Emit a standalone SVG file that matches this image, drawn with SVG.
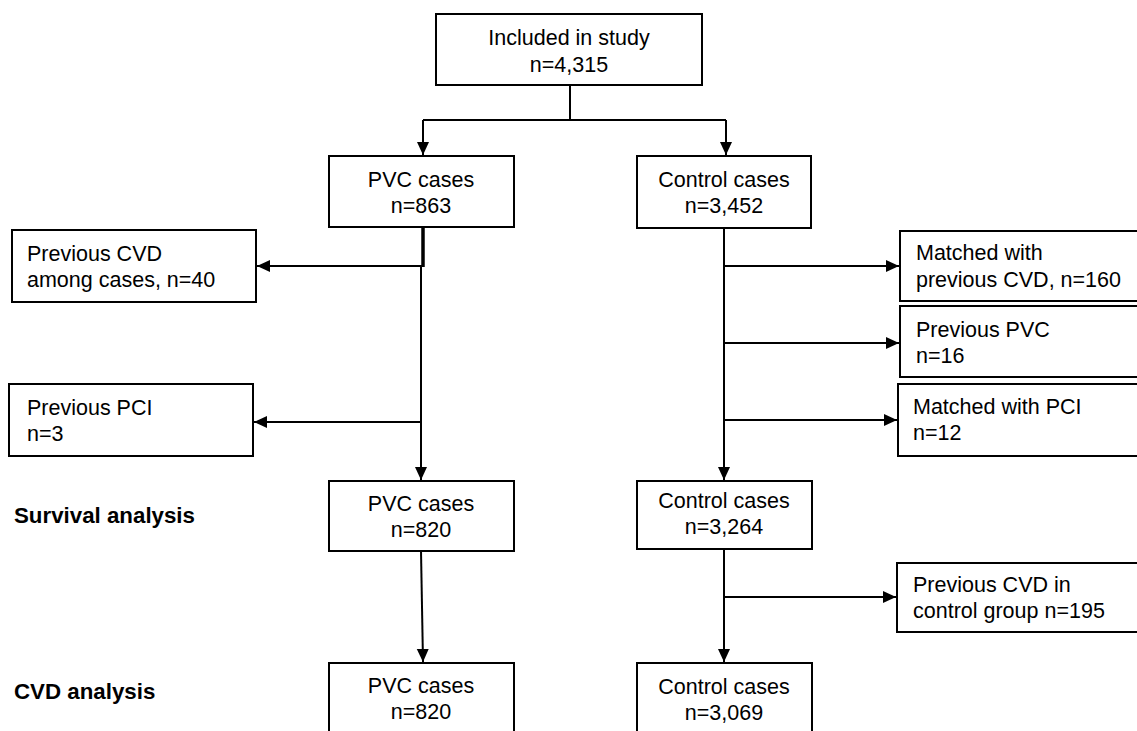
<svg xmlns="http://www.w3.org/2000/svg" width="1137" height="731" viewBox="0 0 1137 731">
<style>
.box{fill:#fff;stroke:#000;stroke-width:2}
.t{font-family:"Liberation Sans",Arial,sans-serif;font-size:21.5px;fill:#000}
.c{text-anchor:middle}
.b{font-weight:bold;font-size:22.3px}
.ln{fill:none;stroke:#000;stroke-width:2}
</style>
<defs>
<marker id="ah" markerUnits="userSpaceOnUse" markerWidth="14" markerHeight="14" viewBox="0 0 14 14" refX="13" refY="7" orient="auto">
<path d="M0,1 L13,7 L0,13 Z" fill="#000"/>
</marker>
</defs>
<rect width="1137" height="731" fill="#fff"/>
<g id="connectors">
<path class="ln" d="M570,85 V120"/>
<path class="ln" d="M423,120 H726"/>
<path class="ln" d="M423,120 V155" marker-end="url(#ah)"/>
<path class="ln" d="M726,120 V155" marker-end="url(#ah)"/>
<path d="M423,228 V267" stroke="#000" stroke-width="3.5" fill="none"/>
<path class="ln" d="M423,266 H257" marker-end="url(#ah)"/>
<path class="ln" d="M421,266 V480" marker-end="url(#ah)"/>
<path class="ln" d="M421,422 H254" marker-end="url(#ah)"/>
<path class="ln" d="M421,551 L423,662" marker-end="url(#ah)"/>
<path class="ln" d="M724,228 V480" marker-end="url(#ah)"/>
<path class="ln" d="M724,266 H899" marker-end="url(#ah)"/>
<path class="ln" d="M724,343 H899" marker-end="url(#ah)"/>
<path class="ln" d="M724,420 H897" marker-end="url(#ah)"/>
<path class="ln" d="M724,549 V662" marker-end="url(#ah)"/>
<path class="ln" d="M724,597 H896" marker-end="url(#ah)"/>
</g>
<g id="included">
<rect class="box" x="436" y="14" width="266" height="71"/>
<text class="t c" x="569" y="45">Included in study</text>
<text class="t c" x="569" y="72">n=4,315</text>
</g>
<g id="pvc1">
<rect class="box" x="329" y="156" width="185" height="71"/>
<text class="t c" x="421" y="187">PVC cases</text>
<text class="t c" x="421" y="213">n=863</text>
</g>
<g id="control1">
<rect class="box" x="637" y="156" width="174" height="72"/>
<text class="t c" x="724" y="187">Control cases</text>
<text class="t c" x="724" y="213">n=3,452</text>
</g>
<g id="prevcvd">
<rect class="box" x="12" y="230" width="244" height="72"/>
<text class="t" x="27" y="261">Previous CVD</text>
<text class="t" x="27" y="287">among cases, n=40</text>
</g>
<g id="prevpci">
<rect class="box" x="9" y="384" width="244" height="72"/>
<text class="t" x="27" y="415">Previous PCI</text>
<text class="t" x="27" y="441">n=3</text>
</g>
<g id="matchedcvd">
<rect class="box" x="900" y="231" width="245" height="70"/>
<text class="t" x="916" y="260">Matched with</text>
<text class="t" x="916" y="287">previous CVD, n=160</text>
</g>
<g id="prevpvc">
<rect class="box" x="900" y="306" width="245" height="71"/>
<text class="t" x="916" y="337">Previous PVC</text>
<text class="t" x="916" y="363">n=16</text>
</g>
<g id="matchedpci">
<rect class="box" x="898" y="384" width="247" height="72"/>
<text class="t" x="913" y="414">Matched with PCI</text>
<text class="t" x="913" y="440">n=12</text>
</g>
<g id="survival-label">
<text class="t b" x="14" y="523">Survival analysis</text>
</g>
<g id="pvc2">
<rect class="box" x="329" y="481" width="185" height="70"/>
<text class="t c" x="421" y="511">PVC cases</text>
<text class="t c" x="421" y="537">n=820</text>
</g>
<g id="control2">
<rect class="box" x="637" y="481" width="175" height="68"/>
<text class="t c" x="724" y="508">Control cases</text>
<text class="t c" x="724" y="534">n=3,264</text>
</g>
<g id="prevcvdcontrol">
<rect class="box" x="897" y="563" width="248" height="69"/>
<text class="t" x="913" y="592">Previous CVD in</text>
<text class="t" x="913" y="618">control group n=195</text>
</g>
<g id="cvd-label">
<text class="t b" x="14" y="699">CVD analysis</text>
</g>
<g id="pvc3">
<rect class="box" x="329" y="663" width="185" height="80"/>
<text class="t c" x="421" y="693">PVC cases</text>
<text class="t c" x="421" y="719">n=820</text>
</g>
<g id="control3">
<rect class="box" x="637" y="663" width="175" height="80"/>
<text class="t c" x="724" y="694">Control cases</text>
<text class="t c" x="724" y="720">n=3,069</text>
</g>
</svg>
